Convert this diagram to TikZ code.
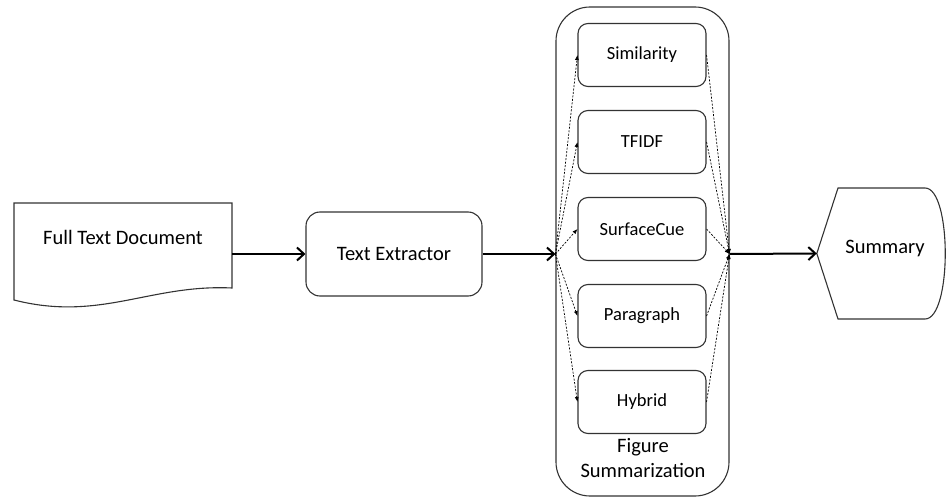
\documentclass[tikz,border=0pt]{standalone}
\usepackage{fontspec}
\setmainfont{Carlito}
\usetikzlibrary{arrows.meta}
\tikzset{
  docbox/.style={minimum width=218pt,minimum height=102pt,inner sep=0pt},
  process/.style={draw=black!80,line width=1.1pt,rounded corners=14pt,minimum width=176pt,minimum height=84pt,font=\fontsize{20.5}{25}\selectfont},
  groupbox/.style={draw=black!80,line width=1.1pt,rounded corners=34pt,minimum width=173pt,minimum height=489pt},
  method/.style={draw=black!80,line width=1.1pt,rounded corners=10pt,minimum width=128pt,minimum height=63pt,font=\fontsize{18.5}{22}\selectfont},
  outline/.style={draw=black!80,line width=1.1pt},
  stream/.style={line width=2pt,-{Straight Barb[length=7pt,width=13pt]}},
  fanline/.style={dash pattern=on 2pt off 1.5pt,line width=0.7pt,-{Latex[length=5pt,width=4pt]}}
}

\begin{document}
\begin{tikzpicture}[x=1pt,y=-1pt]
      \useasboundingbox (0,0) rectangle (946,497);

      \node[docbox,label={[font=\fontsize{20.5}{25}\selectfont,yshift=17pt]center:Full Text Document}] (doc) at (123,254) {};
      \draw[outline] (14,203) -- (232,203) -- (232,288) .. controls (150,284) and (100,322) .. (14,300) -- cycle;

      \node[process] (extractor) at (394,254) {Text Extractor};

      \node[groupbox] (figsum) at (642.5,251.5) {};
      \node[align=center,font=\fontsize{20.5}{25}\selectfont] (figlabel) at (643,458) {Figure\\Summarization};

      \node[method] (similarity) at (642,55) {Similarity};
      \node[method] (tfidf) at (642,142) {TFIDF};
      \node[method] (surfacecue) at (642,229) {SurfaceCue};
      \node[method] (paragraph) at (642,316) {Paragraph};
      \node[method] (hybrid) at (642,402) {Hybrid};

      \coordinate (fork) at (figsum.west |- extractor.east);
      \coordinate (merge) at (figsum.east |- extractor.east);

      \node[minimum width=130pt,minimum height=131pt,label={[font=\fontsize{20.5}{25}\selectfont,yshift=5pt,xshift=3pt]center:Summary}] (summary) at (882,253.5) {};
      \draw[outline] (summary.west) -- (838,188) -- (925,188) .. controls (952,188) and (952,319) .. (925,319) -- (838,319) -- cycle;

      \draw[stream] (doc) -- (extractor);
      \draw[stream] (extractor) -- (fork);
      \foreach \m in {similarity,tfidf,surfacecue,paragraph,hybrid} {
        \draw[fanline] (fork) -- (\m.west);
        \draw[fanline] (\m.east) -- (merge);
      }
      \draw[stream] (merge) -- (summary.west);
    \end{tikzpicture}
\end{document}
